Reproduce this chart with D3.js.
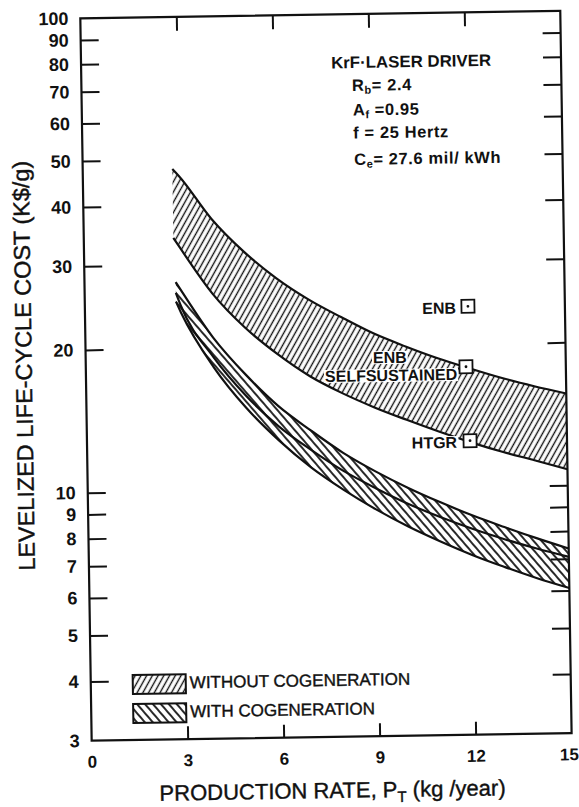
<!doctype html>
<html>
<head>
	<meta charset="utf-8">
	<title></title>
	<style>
		body { margin: 0; background: #fff; }
		svg text { font-family: "Liberation Sans", Arial, sans-serif; fill: #111; }
		.frame { fill: none; stroke: #111; stroke-width: 2.2; }
		.curve { fill: none; stroke: #111; stroke-width: 2.2; }
		.tick line { stroke: #111; stroke-width: 2; }
	</style>
</head>
<body>

	<svg width="579" height="807"></svg>

	<script src="https://cdn.jsdelivr.net/npm/d3@7"></script>
	<script>

		// axes
		const xTicks = [ 0, 3, 6, 9, 12, 15 ];
		const xInnerTicks = [ 3, 6, 9, 12 ];
		const yTickLabels = [ 100, 90, 80, 70, 60, 50, 40, 30, 20, 10, 9, 8, 7, 6, 5, 4, 3 ];
		const yInnerTicks = [ 90, 80, 70, 60, 50, 40, 30, 20, 10, 9, 8, 7, 6, 5, 4 ];

		// without cogeneration band (K$/g)
		const rateTop = [ 2.8, 3, 4, 5, 6, 7, 8, 9, 10, 11, 12, 13, 14, 15 ];
		const withoutHigh = [ 47.8, 46.2, 37.4, 31.8, 27.9, 25.1, 23.0, 21.2, 19.85, 18.7, 17.75, 16.9, 16.2, 15.6 ];
		const withoutLow = [ 34.2, 32.6, 26.0, 22.0, 19.3, 17.3, 15.9, 14.8, 13.9, 13.1, 12.4, 11.8, 11.3, 10.8 ];

		// with cogeneration band
		const rateBottom = [ 2.85, 3, 4, 5, 6, 7, 8, 9, 10, 11, 12, 13, 14, 15 ];
		const withHigh = [ 27.6, 26.6, 21.0, 17.5, 15.0, 13.3, 11.9, 10.85, 10.0, 9.3, 8.7, 8.2, 7.75, 7.35 ];
		const withMid = [ 26.2, 24.6, 19.1, 15.8, 13.6, 12.1, 10.9, 10.0, 9.25, 8.65, 8.15, 7.73, 7.37, 7.06 ];
		const withLow = [ 25.1, 23.8, 18.2, 14.9, 12.7, 11.1, 9.94, 9.02, 8.28, 7.68, 7.17, 6.75, 6.38, 6.07 ];

		// reference points
		const pointNames = [ "ENB", "ENB SELFSUSTAINED", "HTGR" ];
		const pointX = [ 11.97, 11.88, 11.97 ];
		const pointY = [ 24.0, 17.9, 12.5 ];

		const svg = d3.select( "svg" );

		const x = d3.scaleLinear().domain( [ 0, 15 ] ).range( [ 86, 566 ] );
		const y = d3.scaleLog().domain( [ 3, 100 ] ).range( [ 737, 14.5 ] );

		const defs = svg.append( "defs" );

		function hatch( id, angle, gap, w ) {
			defs.append( "pattern" )
				.attr( "id", id )
				.attr( "patternUnits", "userSpaceOnUse" )
				.attr( "width", gap )
				.attr( "height", gap )
				.attr( "patternTransform", "rotate(" + angle + ")" )
				.append( "line" )
					.attr( "x1", gap / 2 ).attr( "x2", gap / 2 )
					.attr( "y1", -1 ).attr( "y2", gap + 1 )
					.attr( "stroke", "#111" )
					.attr( "stroke-width", w );
		}
		hatch( "fwd", 30, 5, 1.4 );
		hatch( "back", -40, 6, 1.8 );

		// the scan is turned a little
		const g = svg.append( "g" ).attr( "transform", "rotate(-0.9,326,378)" );

		const band = ( xs, lo, hi ) => d3.area()
			.curve( d3.curveMonotoneX )
			.x( ( d, i ) => x( xs[ i ] ) )
			.y0( ( d, i ) => y( lo[ i ] ) )
			.y1( ( d, i ) => y( hi[ i ] ) )( xs );

		const line = ( xs, vs ) => d3.line()
			.curve( d3.curveMonotoneX )
			.x( ( d, i ) => x( xs[ i ] ) )
			.y( ( d, i ) => y( vs[ i ] ) )( xs );

		g.append( "path" ).attr( "d", band( rateTop, withoutLow, withoutHigh ) ).attr( "fill", "url(#fwd)" );
		g.append( "path" ).attr( "d", band( rateBottom, withLow, withHigh ) ).attr( "fill", "url(#back)" );

		[ [ rateTop, withoutHigh ], [ rateTop, withoutLow ], [ rateBottom, withHigh ], [ rateBottom, withMid ], [ rateBottom, withLow ] ]
			.forEach( ( c ) => {
				g.append( "path" ).attr( "class", "curve" ).attr( "d", line( c[0], c[1] ) );
			});

		// ticks
		const x0 = x( 0 ), x1 = x( 15 ), y0 = y( 3 ), y1 = y( 100 );

		function styleAxis( sel ) {
			sel.select( ".domain" ).remove();
			sel.selectAll( "text" )
				.attr( "font-family", "Liberation Sans, Arial, sans-serif" )
				.attr( "font-size", 18 )
				.attr( "font-weight", "bold" )
				.attr( "fill", "#111" );
		}

		g.append( "g" ).attr( "transform", "translate(" + x0 + ",0)" )
			.call( d3.axisLeft( y ).tickValues( yInnerTicks ).tickSize( -18 ).tickFormat( "" ) ).call( styleAxis );
		g.append( "g" ).attr( "transform", "translate(" + x1 + ",0)" )
			.call( d3.axisRight( y ).tickValues( yInnerTicks ).tickSize( -18 ).tickFormat( "" ) ).call( styleAxis );
		g.append( "g" ).attr( "transform", "translate(0," + y1 + ")" )
			.call( d3.axisTop( x ).tickValues( xInnerTicks ).tickSize( -14 ).tickFormat( "" ) ).call( styleAxis );
		g.append( "g" ).attr( "transform", "translate(0," + y0 + ")" )
			.call( d3.axisBottom( x ).tickValues( xInnerTicks ).tickSize( -13 ).tickFormat( "" ) ).call( styleAxis );

		// tick labels
		g.append( "g" ).attr( "transform", "translate(" + x0 + ",0)" )
			.call( d3.axisLeft( y ).tickValues( yTickLabels ).tickSize( 0 ).tickPadding( 12 ).tickFormat( d3.format( "d" ) ) )
			.call( styleAxis );
		g.append( "g" ).attr( "transform", "translate(0," + y0 + ")" )
			.call( d3.axisBottom( x ).tickValues( xTicks ).tickSize( 0 ).tickPadding( 15 ).tickFormat( d3.format( "d" ) ) )
			.call( styleAxis )
			.selectAll( "text" )
				.attr( "font-size", 17 )
				.attr( "dx", d => d === 15 ? -3 : 0 );

		g.append( "rect" ).attr( "class", "frame" )
			.attr( "x", x0 ).attr( "y", y1 )
			.attr( "width", x1 - x0 ).attr( "height", y0 - y1 );

		// axis titles
		g.append( "text" )
			.attr( "transform", "translate(32,361) rotate(-90)" )
			.attr( "text-anchor", "middle" )
			.attr( "font-size", 23 )
			.attr( "stroke", "#111" ).attr( "stroke-width", 0.4 )
			.attr( "textLength", 410 ).attr( "lengthAdjust", "spacingAndGlyphs" )
			.text( "LEVELIZED LIFE-CYCLE COST (K$/g)" );

		const xt = g.append( "text" )
			.attr( "x", 153 ).attr( "y", 798 )
			.attr( "font-size", 22 )
			.attr( "stroke", "#111" ).attr( "stroke-width", 0.4 );
		xt.append( "tspan" ).text( "PRODUCTION RATE, P" );
		xt.append( "tspan" ).attr( "font-size", 15 ).attr( "dy", 5 ).text( "T" );
		xt.append( "tspan" ).attr( "dy", -5 ).text( " (kg /year)" );

		// parameters
		const note = g.append( "g" )
			.attr( "font-size", 16.5 ).attr( "font-weight", "bold" )
			.attr( "letter-spacing", 0.6 );
		note.append( "text" ).attr( "x", 336 ).attr( "y", 68.5 )
			.attr( "letter-spacing", 0 )
			.attr( "textLength", 160 ).attr( "lengthAdjust", "spacingAndGlyphs" )
			.text( "KrF·LASER DRIVER" );

		function subText( px, py, main, sub, rest ) {
			const t = note.append( "text" ).attr( "x", px ).attr( "y", py );
			t.append( "tspan" ).text( main );
			t.append( "tspan" ).attr( "font-size", 11 ).attr( "dy", 3 ).text( sub );
			t.append( "tspan" ).attr( "dy", -3 ).text( rest );
		}
		subText( 356.5, 91.5, "R", "b", "= 2.4" );
		subText( 357, 116, "A", "f", " =0.95" );
		note.append( "text" ).attr( "x", 357 ).attr( "y", 139 ).text( "f = 25 Hertz" );
		subText( 357.5, 165.5, "C", "e", "= 27.6 mil/ kWh" );

		// point labels with a white knockout
		const labels = g.append( "g" ).attr( "font-size", 16 ).attr( "font-weight", "bold" );

		function knock( px, py, txt, anchor ) {
			const t = labels.append( "text" )
				.attr( "x", px ).attr( "y", py )
				.attr( "text-anchor", anchor )
				.text( txt );
			const b = t.node().getBBox();
			labels.insert( "rect", "text" )
				.attr( "x", b.x - 1 ).attr( "y", b.y + 2 )
				.attr( "width", b.width + 2 ).attr( "height", b.height - 4 )
				.attr( "fill", "#fff" );
		}

		const px0 = x( pointX[0] ), py0 = y( pointY[0] );
		const px1 = x( pointX[1] ), py1 = y( pointY[1] );
		const px2 = x( pointX[2] ), py2 = y( pointY[2] );

		knock( px0 - 12, py0 + 7, "ENB", "end" );
		knock( px1 - 76, py1 - 5, "ENB", "middle" );
		knock( px1 - 9, py1 + 13, "SELFSUSTAINED", "end" );
		knock( px2 - 13, py2 + 7, "HTGR", "end" );

		const marks = g.selectAll( ".mark" )
			.data( pointNames )
			.enter().append( "g" )
				.attr( "class", "mark" )
				.attr( "transform", ( d, i ) => "translate(" + x( pointX[i] ) + "," + y( pointY[i] ) + ")" );
		marks.append( "rect" )
			.attr( "x", -6.5 ).attr( "y", -6.5 ).attr( "width", 13 ).attr( "height", 13 )
			.attr( "fill", "#fff" ).attr( "stroke", "#111" ).attr( "stroke-width", 1.8 );
		marks.append( "circle" ).attr( "r", 1.4 ).attr( "fill", "#111" );

		// legend
		const legendNames = [ "WITHOUT COGENERATION", "WITH COGENERATION" ];
		const legendFill = [ "url(#fwd)", "url(#back)" ];
		const leg = g.selectAll( ".leg" )
			.data( legendNames )
			.enter().append( "g" )
				.attr( "class", "leg" )
				.attr( "transform", ( d, i ) => "translate(128," + ( 672 + i * 29 ) + ")" );
		leg.append( "rect" )
			.attr( "width", 53 ).attr( "height", 19 )
			.attr( "fill", ( d, i ) => legendFill[i] )
			.attr( "stroke", "#111" ).attr( "stroke-width", 2 );
		leg.append( "text" )
			.attr( "x", 57 ).attr( "y", 14 )
			.attr( "font-size", 17 )
			.attr( "stroke", "#111" ).attr( "stroke-width", 0.4 )
			.text( d => d );

	</script>

</body>
</html>
